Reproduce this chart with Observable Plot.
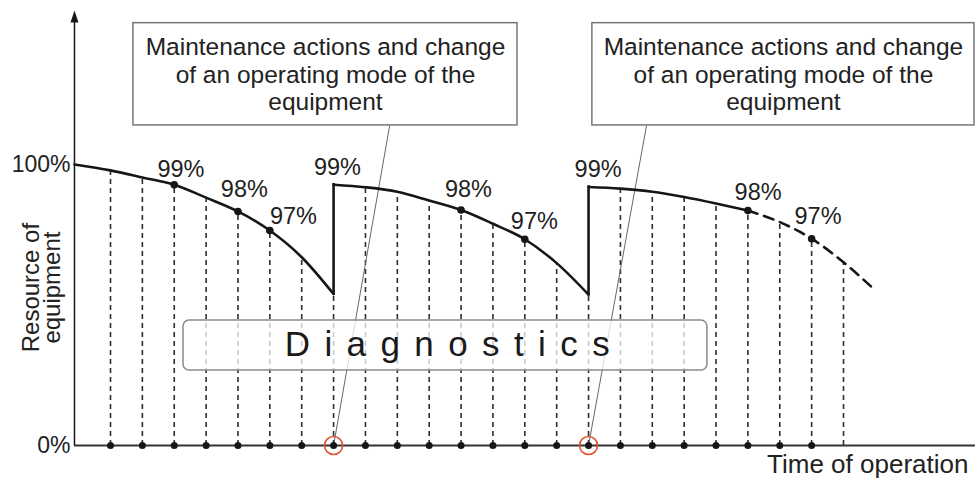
<!DOCTYPE html>
<html><head><meta charset="utf-8">
<script src="https://cdn.jsdelivr.net/npm/d3@7"></script>
<script src="https://cdn.jsdelivr.net/npm/@observablehq/plot@0.6"></script>
<style>body{margin:0;background:#fff;}</style>
</head><body><div id="chart"></div>
<script>
// ---- data (time in inspection steps, resource in % of the axis) ----
const axisT = -0.13;   // time where the resource axis stands
const endT = 28.14;    // right end of the time axis
const topV = 154.8;    // tip of the resource axis arrow

const seg1T = [axisT, 1, 2, 3, 4, 5, 6, 7, 8];
const seg1V = [100, 97.9, 95.4, 92.8, 88.2, 83.3, 76.5, 67.0, 53.9];
const seg2T = [8, 9, 10, 11, 12, 13, 14, 15, 16];
const seg2V = [92.8, 91.9, 90.3, 87.2, 83.8, 78.9, 73.4, 64.9, 53.7];
const seg3T = [16, 17, 18, 19, 20, 21];
const seg3V = [92.0, 91.4, 90.3, 88.4, 86.1, 83.6];
const forecastT = [21, 22, 23, 24, 24.94];
const forecastV = [83.6, 79.5, 73.6, 65.2, 55.8];

const jumpT = [8, 16];
const jumpLow = [53.9, 53.7];
const jumpHigh = [92.8, 92.0];

const ruleT = [1,2,3,4,5,6,7,8,9,10,11,12,13,14,15,16,17,18,19,20,21,22,23,24];
const ruleV = [97.9,95.4,92.8,88.2,83.3,76.5,67.0,53.9,91.9,90.3,87.2,83.8,78.9,73.4,64.9,53.7,91.4,90.3,88.4,86.1,83.6,79.5,73.6,65.2];
const diagT = [1,2,3,4,5,6,7,8,9,10,11,12,13,14,15,16,17,18,19,20,21,22,23];

const markT = [3, 5, 6, 12, 14, 21, 23];
const markV = [92.8, 83.3, 76.5, 83.8, 73.4, 83.6, 73.6];

const pctText = ["99%","98%","97%","99%","98%","97%","99%","98%","97%"];
const pctT = [3.21, 5.20, 6.74, 8.12, 12.23, 14.30, 16.30, 21.32, 23.20];
const pctV = [95.7, 88.4, 79.0, 96.1, 88.4, 77.2, 95.7, 87.4, 79.0];

const calloutText = "Maintenance actions and change\nof an operating mode of the\nequipment";
const calloutT1 = [1.72, 16.12];
const calloutT2 = [13.77, 28.11];
const calloutV1 = 113.9, calloutV2 = 150.3, calloutVc = 132.3;
const leaderT = [9.76, 17.82];

const yTickV = [0, 100];
const yTickText = ["0%", "100%"];

const diagBox = {t1: 3.29, t2: 19.73, v1: 26.7, v2: 44.5, tc: 11.79, vc: 36.0, label: "Diagnostics"};
const yTitle = {t: -1.12, v: 56.2, label: "Resource of\nequipment"};
const xTitle = "Time of operation";

// ---- tables ----
const segRows = [
  ...seg1T.map((t, i) => ({t, v: seg1V[i], seg: 1})),
  ...seg2T.map((t, i) => ({t, v: seg2V[i], seg: 2})),
  ...seg3T.map((t, i) => ({t, v: seg3V[i], seg: 3}))
];
const forecastRows = forecastT.map((t, i) => ({t, v: forecastV[i]}));
const jumpRows = jumpT.map((t, i) => ({t, lo: jumpLow[i], hi: jumpHigh[i], v: 0}));
const ruleRows = ruleT.map((t, i) => ({t, v: ruleV[i]}));
const diagRows = diagT.map(t => ({t, v: 0}));
const markRows = markT.map((t, i) => ({t, v: markV[i]}));
const pctRows = pctText.map((label, i) => ({label, t: pctT[i], v: pctV[i]}));
const callouts = calloutT1.map((t1, i) => ({t1, t2: calloutT2[i], tc: (t1 + calloutT2[i]) / 2, v1: calloutV1, v2: calloutV2, vc: calloutVc, label: calloutText}));
const leaders = leaderT.map((t1, i) => ({t1, v1: calloutV1, t2: jumpT[i], v2: 0}));
const yTicks = yTickV.map((v, i) => ({v, label: yTickText[i]}));

const ink = "#161616";
const plot = Plot.plot({
  width: 975, height: 478, margin: 0,
  x: {domain: [1, 24], range: [110, 843], axis: null},
  y: {domain: [0, 100], range: [445, 164], axis: null},
  style: {fontFamily: "Liberation Sans, Arial, sans-serif", color: "#222", background: "#fff"},
  marks: [
    Plot.ruleX(ruleRows, {x: "t", y1: 0, y2: "v", stroke: "#2e2e2e", strokeWidth: 1.6, strokeDasharray: "5,4"}),
    Plot.link(leaders, {x1: "t1", y1: "v1", x2: "t2", y2: "v2", stroke: "#666", strokeWidth: 1}),
    Plot.rect([diagBox], {x1: "t1", x2: "t2", y1: "v1", y2: "v2", rx: 6, fill: "white", fillOpacity: 0.75, stroke: "#8a8a8a", strokeWidth: 1.5}),
    Plot.text([diagBox], {x: "tc", y: "vc", text: "label", fontSize: 35, fill: "#1a1a1a"}),
    Plot.ruleY([0], {x1: axisT, x2: endT, stroke: "#333", strokeWidth: 2}),
    Plot.ruleX([axisT], {y1: 0, y2: topV - 3, stroke: ink, strokeWidth: 1.5}),
    Plot.vector([{t: axisT, v: topV}], {x: "t", y: "v", shape: "spike", anchor: "end", length: 12, r: 4, rotate: 0, fill: ink, stroke: "none"}),
    Plot.line(segRows, {x: "t", y: "v", z: "seg", curve: "monotone-x", stroke: ink, strokeWidth: 2.6}),
    Plot.ruleX(jumpRows, {x: "t", y1: "lo", y2: "hi", stroke: ink, strokeWidth: 2.6, strokeLinecap: "square"}),
    Plot.line(forecastRows, {x: "t", y: "v", curve: "monotone-x", stroke: ink, strokeWidth: 2.6, strokeDasharray: "10,7"}),
    Plot.dot(diagRows, {x: "t", y: "v", r: 3.5, fill: ink}),
    Plot.dot(markRows, {x: "t", y: "v", r: 3.8, fill: ink}),
    Plot.dot(jumpRows, {x: "t", y: "v", r: 9, fill: "none", stroke: "#e0552f", strokeWidth: 1.6}),
    Plot.text(pctRows, {x: "t", y: "v", text: "label", fontSize: 23.5, lineAnchor: "bottom"}),
    Plot.rect(callouts, {x1: "t1", x2: "t2", y1: "v1", y2: "v2", fill: "white", stroke: "#777", strokeWidth: 1.5}),
    Plot.text(callouts, {x: "tc", y: "vc", text: "label", fontSize: 24.5, lineHeight: 1.13}),
    Plot.text(yTicks, {x: axisT, y: "v", text: "label", textAnchor: "end", dx: -4, fontSize: 23}),
    Plot.text([yTitle], {x: "t", y: "v", text: "label", rotate: -90, fontSize: 24, lineHeight: 0.85}),
    Plot.text([{t: endT, v: 0, label: xTitle}], {x: "t", y: "v", text: "label", textAnchor: "end", lineAnchor: "bottom", dx: -7, dy: 27, fontSize: 26})
  ]
});
d3.select(plot).selectAll("text").filter(function() { return this.textContent === "Diagnostics"; })
  .attr("letter-spacing", "14.4px");
document.getElementById("chart").appendChild(plot);
</script>
</body></html>
